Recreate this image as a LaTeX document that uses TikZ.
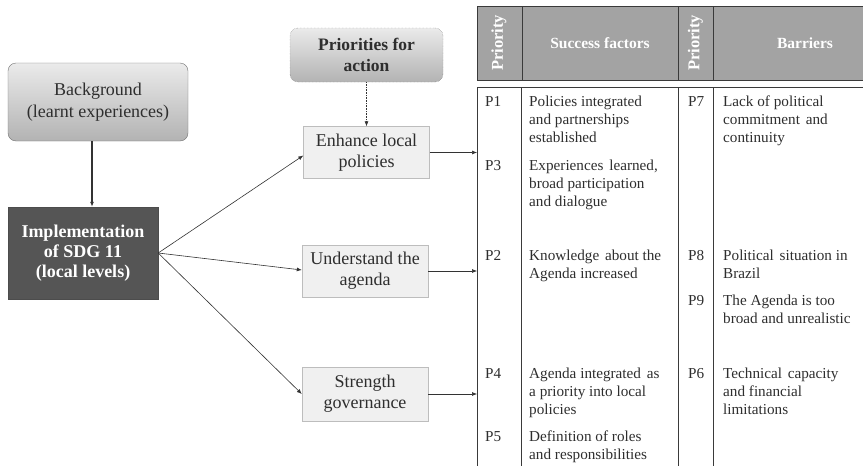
\documentclass[tikz,border=0pt]{standalone}
\usepackage{fontspec}
\setmainfont{Liberation Serif}
\usetikzlibrary{arrows.meta}
\definecolor{txt}{HTML}{2E2E2E}
\definecolor{darkbox}{HTML}{555555}
\definecolor{hdr}{HTML}{A3A3A3}
\definecolor{lineclr}{HTML}{3A3A3A}
\definecolor{lightbox}{HTML}{F0F0F0}
\definecolor{lightedge}{HTML}{BDBDBD}
\newcommand{\wsp}{\ \hspace{2pt}}
\begin{document}
\begin{tikzpicture}[x=1pt,y=-1pt,
  roundbox/.style={rounded corners=8pt, draw=black!55, top color=black!8, bottom color=black!30,
    text=txt, align=center, inner sep=0pt},
  implbox/.style={draw=black!70, fill=darkbox, text=white, align=center, inner sep=0pt,
    font=\bfseries\fontsize{18}{20}\selectfont, minimum width=150pt, minimum height=92pt},
  actbox/.style={draw=lightedge, fill=lightbox, text=txt, align=center, inner sep=0pt,
    font=\fontsize{18}{21}\selectfont, minimum width=126pt, minimum height=52pt},
  cell/.style={anchor=north west, align=left, inner sep=0pt, text=txt,
    font=\fontsize{15.2}{18}\selectfont},
  hdrtext/.style={text=white, font=\bfseries\fontsize{15.5}{17}\selectfont, inner sep=0pt},
  conn/.style={draw=black!80, line width=0.6pt, -{Latex[length=5pt,width=4pt]}},
  tline/.style={draw=lineclr, line width=1pt}
]
\useasboundingbox (0,0) rectangle (863,466);

% left boxes
\node[roundbox, font=\fontsize{18}{21.5}\selectfont, minimum width=180pt, minimum height=78pt]
  (bg) at (98,102) {Background\\(learnt experiences)};
\node[implbox] (impl) at (83,253) {Implementation\\of SDG 11\\(local levels)};
\node[roundbox, densely dotted, font=\bfseries\fontsize{17.5}{21}\selectfont, minimum width=153pt, minimum height=54pt]
  (prio) at (366.5,55) {Priorities for\\action};

\node[actbox] (enh) at (366.5,152.5) {Enhance local\\policies};
\node[actbox] (und) at (365,271) {Understand the\\agenda};
\node[actbox, minimum height=54pt] (str) at (365,394) {Strength\\governance};

% table frame
\coordinate (tl) at (477,87);
\fill[hdr] (477,6) rectangle (870,80);
\draw[tline] (870,6) -- (477,6) -- (477,80) -- (870,80);
\draw[tline] (522,6) -- (522,80);
\draw[tline] (678,6) -- (678,80);
\draw[tline] (713,6) -- (713,80);
\draw[tline] (870,87) -- (tl) -- (477,470);
\draw[tline] (521,87) -- (521,470);
\draw[tline] (678,87) -- (678,470);
\draw[tline] (713,87) -- (713,470);

% header texts
\node[hdrtext, rotate=90, font=\bfseries\fontsize{16.5}{17}\selectfont] (h1) at (499,43) {Priority};
\node[hdrtext] (h2) at (600,43) {Success factors};
\node[hdrtext, rotate=90, font=\bfseries\fontsize{16.5}{17}\selectfont] (h3) at (695.5,43) {Priority};
\node[hdrtext] (h4) at (805,43) {Barriers};

% connectors
\draw[conn, line width=1.3pt] ([xshift=-6pt]bg.south) -- ([xshift=9pt]impl.north);
\draw[conn] (impl.east) -- ([yshift=-3pt]enh.west);
\draw[conn] (impl.east) -- ([yshift=1pt]und.west);
\draw[conn] (impl.east) -- (str.west);
\draw[conn, densely dotted] (prio.south) -- (enh.north);
\draw[conn] (enh.east) -- (enh.east -| tl);
\draw[conn] (und.east) -- (und.east -| tl);
\draw[conn] (str.east) -- (str.east -| tl);

% table body
\node[cell] (p1) at (485,94) {\strut P1};
\node[cell] (s1) at (529,94) {\strut Policies integrated\\and partnerships\\established};
\node[cell] (p3) at (485,158) {\strut P3};
\node[cell] (s3) at (529,158) {\strut Experiences\wsp learned,\\broad participation\\and dialogue};
\node[cell] (p2) at (485,248) {\strut P2};
\node[cell] (s2) at (529,248) {\strut Knowledge\wsp about the\\Agenda increased};
\node[cell] (p4) at (485,366) {\strut P4};
\node[cell] (s4) at (529,366) {\strut Agenda integrated\wsp as\\a priority into local\\policies};
\node[cell] (p5) at (485,429) {\strut P5};
\node[cell] (s5) at (529,429) {\strut Definition of roles\\and responsibilities};

\node[cell] (p7) at (688,94) {\strut P7};
\node[cell] (b7) at (723,94) {\strut Lack of political\\commitment\wsp and\\continuity};
\node[cell] (p8) at (688,248) {\strut P8};
\node[cell] (b8) at (723,248) {\strut Political\wsp situation in\\Brazil};
\node[cell] (p9) at (688,293) {\strut P9};
\node[cell] (b9) at (723,293) {\strut The Agenda is too\\broad and unrealistic};
\node[cell] (p6) at (688,366) {\strut P6};
\node[cell] (b6) at (723,366) {\strut Technical\wsp capacity\\and financial\\limitations};
\end{tikzpicture}
\end{document}
